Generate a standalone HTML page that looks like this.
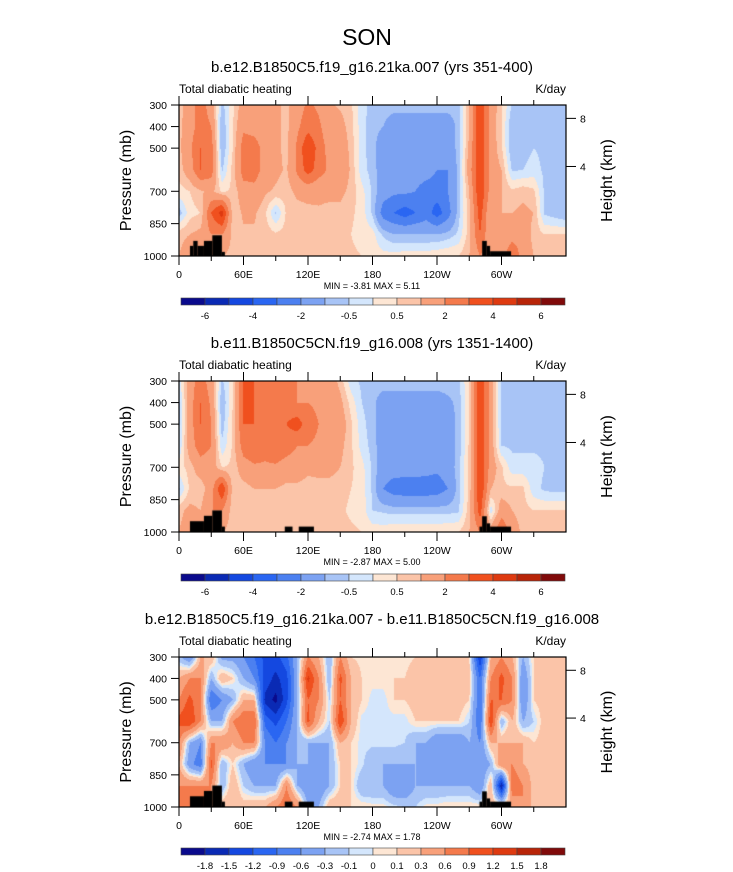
<!DOCTYPE html>
<html><head><meta charset="utf-8">
<style>
html,body{margin:0;padding:0;background:#fff;}
#wrap{position:relative;width:733px;height:872px;overflow:hidden;background:#fff;font-family:"Liberation Sans",Arial,sans-serif;}
canvas{position:absolute;}
svg{position:absolute;left:0;top:0;}
</style></head>
<body>
<div id="wrap">
<canvas id="c1" width="387" height="151" style="left:179px;top:105px"></canvas>
<canvas id="c2" width="387" height="151" style="left:179px;top:381px"></canvas>
<canvas id="c3" width="387" height="150" style="left:179px;top:657px"></canvas>
<svg id="ov" width="733" height="872" xmlns="http://www.w3.org/2000/svg">
<text x="367" y="45" font-size="23" text-anchor="middle">SON</text>
</svg>
</div>
<script>
// ---- data ----
const lons = [0,10,20,30,40,50,60,70,80,90,100,110,120,130,140,150,160,170,180,190,200,210,220,230,240,250,260,270,280,290,300,310,320,330,340,350,360];
const pres = [300,400,500,600,700,800,900,1000];
const field1 = [
[0.7,0.8,0.8,0.7,0.3,-0.8,0.8,1],
[1.5,1.5,1.8,1.5,0.5,0.3,1,1.5],
[2.5,2.5,3,3,0.9,0.5,1.2,1.5],
[1.5,2,2.5,2.5,1.2,3,2,1.5],
[-0.7,-1,-1,-0.6,0.4,4.5,2,1],
[0.3,0.5,0.5,0.7,0.6,0.6,0.8,0.8],
[1.5,1.8,2.5,2.5,1.5,1.1,0.9,0.8],
[1.4,1.5,2.6,2.6,1.6,1.1,0.9,0.8],
[1.2,1.2,1.5,1.5,1.1,0.6,0.8,0.8],
[1.2,1.2,1.2,1.2,0.9,-0.6,0.6,0.8],
[0.8,0.8,0.8,0.9,0.7,0.6,0.7,0.7],
[1.5,1.8,2.2,2.2,1.2,0.7,0.6,0.7],
[2.2,2.6,4,3.5,1.3,0.8,0.6,0.7],
[1.8,2.2,2.6,2.5,1.2,0.9,0.5,0.7],
[1.1,1.3,1.6,1.8,1.2,0.8,0.6,0.7],
[0.9,1.3,1.6,1.7,1.2,0.8,0.6,0.7],
[0.6,0.7,0.8,0.9,0.8,0.6,0.5,0.6],
[-0.3,-0.3,-0.3,-0.3,0.2,0.3,0.3,0.5],
[-0.7,-0.8,-0.8,-0.7,-0.6,-0.6,0.2,0.3],
[-0.7,-1,-1.5,-1.5,-1.5,-2.5,-0.6,0.2],
[-0.7,-1.5,-1.5,-1.5,-1.8,-3,-1,0.2],
[-0.7,-1.5,-1.5,-1.5,-1.8,-3.5,-1,0.3],
[-0.7,-1.5,-1.5,-1.5,-2,-3,-1,0.3],
[-0.7,-1.5,-1.5,-1.5,-2.5,-2.5,-1,0.3],
[-0.7,-1.5,-1.5,-2,-2.5,-3.5,-1,0.4],
[-0.7,-1.5,-1.5,-2,-2,-2.5,-0.8,0.5],
[-0.7,-0.8,-0.8,-0.8,-0.8,-0.7,-0.4,0.5],
[1,1,1.2,1.5,1,0.8,0.8,1],
[4,4,4,4,4,3.5,3,2],
[1.5,1.5,1.5,1.5,1.5,1,1,1],
[0.6,0.5,0.6,1,1,1,1,1.5],
[-0.6,-1,-1,-0.6,0.6,1,1.5,3],
[-0.6,-0.6,-0.7,-0.5,0.8,1.2,1.5,1.5],
[-0.6,-0.6,-0.5,-0.3,0.6,1,0.8,1],
[-0.6,-0.6,-0.6,-0.6,-0.6,-0.6,0.5,0.8],
[-0.6,-0.6,-0.6,-0.6,-0.6,-0.8,0.5,0.8],
[-0.6,-0.6,-0.6,-0.6,-0.6,-1,0.5,0.8]];
const field2 = [
[-0.3,-0.6,-0.6,-0.5,0.3,-0.6,0.8,1],
[1.5,1.5,1.5,1.5,0.7,0.6,1.2,1.5],
[2.5,3,3,2.5,1.5,0.6,1,1.5],
[1.5,1.8,2,2,1.5,1.5,2,1.5],
[-0.6,-1,-0.8,-0.4,0.5,4,2,1],
[0.3,0.5,0.6,0.6,0.6,0.7,0.6,0.7],
[3,3,3,2.5,1.5,0.7,0.6,0.7],
[3,3,3,3,1.8,1,0.7,0.7],
[2.5,2.5,2.5,2.5,1.8,1,0.6,0.7],
[2.5,2.5,3,3,1.8,1,0.7,0.7],
[2,2.5,3,2.5,1.5,0.8,0.6,0.6],
[2,2,3.5,2,1.5,0.8,0.6,0.7],
[1.5,2,2.5,2,1.2,0.7,0.5,0.7],
[1.5,1.8,2,1.8,1.2,0.8,0.6,0.8],
[1.5,1.5,2,1.8,1.2,0.8,0.6,0.8],
[0.8,1.2,1.5,1.2,1,0.7,0.6,0.7],
[-0.3,0.3,0.6,0.6,0.6,0.5,0.4,0.6],
[-0.6,-0.5,-0.3,-0.2,0.2,0.3,0.3,0.5],
[-0.6,-0.8,-0.8,-0.7,-0.6,-0.6,-0.5,0.3],
[-0.6,-1.5,-1.5,-1.5,-1.5,-2,-0.6,0.3],
[-0.6,-1.5,-1.5,-1.5,-1.5,-2.5,-0.7,0.4],
[-0.6,-1.5,-1.5,-1.5,-1.5,-2.6,-0.7,0.4],
[-0.6,-1.5,-1.5,-1.5,-1.5,-2.6,-0.7,0.4],
[-0.6,-1.5,-1.5,-1.5,-1.6,-2.6,-0.7,0.4],
[-0.6,-1.5,-1.5,-1.5,-1.8,-2.5,-0.7,0.4],
[-0.6,-1.2,-1.5,-1.5,-1.5,-2,-0.7,0.5],
[-0.6,-0.8,-0.8,-0.8,-0.7,-0.7,-0.6,0.5],
[0.5,0.5,0.5,0.6,0.6,0.6,0.8,1],
[4,4,4,4,4,4,3.5,2],
[1.5,1.5,1.5,1.5,1.5,1,-0.3,1.5],
[-0.6,-0.6,-0.6,-0.5,0.6,0.6,1.5,3],
[-0.6,-1,-1,-0.6,-0.3,0.6,1,1.5],
[-0.6,-0.7,-0.7,-0.6,-0.3,0.6,0.7,0.8],
[-0.6,-0.6,-0.6,-0.6,-0.3,-0.3,0.5,0.7],
[-0.8,-0.8,-0.6,-0.6,-0.5,-0.6,0.5,0.7],
[-1,-0.8,-0.6,-0.6,-0.6,-0.7,0.5,0.7],
[-1,-0.8,-0.6,-0.6,-0.6,-0.7,0.5,0.7]];
const field3 = [
[-0.2,0.3,0.6,1,0.6,0.3,0.6,0.6],
[-0.6,0.6,1,1.2,-0.3,-0.5,0.6,0.6],
[0.3,0.6,0.6,0.6,-0.6,-0.8,0.6,0.6],
[0.3,-0.3,-0.9,-0.3,0.6,1,0.6,0.6],
[-0.4,0.3,-0.6,-0.3,0.6,-0.3,-0.3,0.3],
[-0.4,0.1,-0.3,0.6,0.3,0.1,0.3,0.3],
[-0.6,-0.3,0.3,0.9,0.6,-0.3,-0.1,0.2],
[-0.9,-0.6,0.3,0.9,0.6,-0.6,-0.3,0.3],
[-1.3,-1.3,-1.6,-1,-0.6,-0.6,-0.3,0.3],
[-1.3,-1.6,-1.9,-1.3,-0.9,-0.6,-0.3,0.6],
[-1,-1.3,-1.3,-0.9,-0.6,-0.6,0.6,0.9],
[-0.3,-0.3,-0.3,-0.3,-0.3,-0.3,-0.3,0.6],
[0.6,1.3,0.9,1,-0.3,-0.3,-0.6,-0.3],
[0.3,0.6,0.6,0.3,-0.3,-0.6,-0.6,-0.3],
[-0.3,-0.3,-0.1,-0.1,-0.3,-0.3,-0.3,0.3],
[0.6,1,0.9,1.2,0.3,0.1,0.1,0.3],
[0.1,0.3,0.3,0.3,0.1,0.1,0.1,0.1],
[0.05,0.1,0.1,-0.05,-0.05,-0.05,-0.3,0.1],
[0.05,0.05,-0.05,-0.05,-0.05,-0.3,-0.3,0.05],
[0.05,0.05,-0.05,-0.05,-0.05,-0.3,-0.3,0.05],
[0.05,0.1,0.1,-0.05,-0.05,-0.3,-0.6,-0.05],
[0.05,0.1,0.1,-0.05,-0.1,-0.3,-0.6,-0.1],
[0.1,0.2,0.2,0.1,-0.3,-0.3,-0.3,-0.1],
[0.1,0.2,0.2,0.1,-0.3,-0.5,-0.3,0.05],
[0.1,0.2,0.2,0.1,-0.6,-0.5,-0.3,0.05],
[0.1,0.2,0.2,0.1,-0.6,-0.6,-0.3,0.1],
[0.1,0.2,0.2,0.1,-0.6,-0.6,-0.3,0.1],
[0.1,0.2,0.1,-0.1,-0.3,-0.6,-0.3,0.1],
[-1.5,-0.9,-0.9,-0.9,-0.6,-0.6,-0.6,0.1],
[0.3,0.6,0.9,1.2,0.3,-0.3,0.3,0.3],
[0.6,1,0.9,-0.3,0.3,0.6,-1.8,0.3],
[0.3,0.6,0.6,0.3,0.3,0.6,0.9,0.3],
[-0.3,-0.6,-0.6,-0.3,0.3,0.3,0.6,0.6],
[0.1,0.1,0.1,-0.1,0.1,0.2,0.2,0.2],
[0.2,0.2,0.2,0.2,0.2,0.2,0.2,0.2],
[0.2,0.2,0.2,0.2,0.2,0.2,0.2,0.2],
[0.2,0.2,0.2,0.2,0.2,0.2,0.2,0.2]];
const levelsAbs = [-6,-5,-4,-3,-2,-1,-0.5,0,0.5,1,2,3,4,5,6];
const labelsAbs = ["-6","","-4","","-2","","-0.5","","0.5","","2","","4","","6"];
const levelsDiff = [-1.8,-1.5,-1.2,-0.9,-0.6,-0.3,-0.1,0,0.1,0.3,0.6,0.9,1.2,1.5,1.8];
const labelsDiff = ["-1.8","-1.5","-1.2","-0.9","-0.6","-0.3","-0.1","0","0.1","0.3","0.6","0.9","1.2","1.5","1.8"];
const colors = ["#0a0a8c","#0a2ab4","#1448e0","#2a66f2","#4c80f0","#7ca2f2","#a8c4f6","#d4e6fc","#fde6d4","#fbc4a8","#f8a07a","#f47a4c","#f0501e","#de3a10","#b82408","#800a0a"];
// topography: [lonStart, lonEnd, pTop]
const topoA = [[10.2,13.3,953],[13.3,17.3,930],[17.3,23.2,953],[23.2,31,930],[31,39.9,904],[39.9,42.7,981],[282,286.3,930],[286.3,289.4,953],[289.4,308.9,978]];
const topoB = [[10.2,23.2,950],[23.2,31,925],[31,39.9,900],[39.9,42.7,975],[98.4,105.6,975],[111.4,125.5,975],[279.5,282,975],[282,286.3,927],[286.3,289.4,960],[289.4,308.9,975]];
const xTickVals = [0,60,120,180,240,300];
const xTickLabels = ["0","60E","120E","180","120W","60W"];
const yTickVals = [300,400,500,700,850,1000];
const hTickVals = [8,4];
const hTickP = [362,585];
const panelTitles = ["b.e12.B1850C5.f19_g16.21ka.007 (yrs 351-400)","b.e11.B1850C5CN.f19_g16.008 (yrs 1351-1400)","b.e12.B1850C5.f19_g16.21ka.007 - b.e11.B1850C5CN.f19_g16.008"];
const minmax = ["MIN =  -3.81  MAX =   5.11","MIN =  -2.87  MAX =   5.00","MIN =  -2.74  MAX =   1.78"];

// ---- rendering ----
const NS="http://www.w3.org/2000/svg";
const ov=document.getElementById('ov');
function mk(tag,attrs,parent){const e=document.createElementNS(NS,tag);for(const k in attrs)e.setAttribute(k,attrs[k]);(parent||ov).appendChild(e);return e;}
const PL=179, PW=387;
const panels=[
 {cid:'c1',top:105,h:151,field:field1,levels:levelsAbs,labels:labelsAbs,topo:topoA,cbY:298},
 {cid:'c2',top:381,h:151,field:field2,levels:levelsAbs,labels:labelsAbs,topo:topoB,cbY:574},
 {cid:'c3',top:657,h:150,field:field3,levels:levelsDiff,labels:labelsDiff,topo:topoB,cbY:848}];
function colorIdx(v,lv){let i=0;while(i<lv.length&&v+1e-6>=lv[i])i++;return i;}
function sample(field,lon,p){
  let fi=lon/10; let i0=Math.min(Math.floor(fi),lons.length-2); let tx=fi-i0;
  let j0=0; while(j0<pres.length-2&&p>pres[j0+1])j0++;
  let ty=(p-pres[j0])/(pres[j0+1]-pres[j0]); ty=Math.max(0,Math.min(1,ty));
  const a=field[i0][j0],b=field[i0+1][j0],c=field[i0][j0+1],d=field[i0+1][j0+1];
  return (a*(1-tx)+b*tx)*(1-ty)+(c*(1-tx)+d*tx)*ty;
}
panels.forEach((P,k)=>{
  const cv=document.getElementById(P.cid),ctx=cv.getContext('2d');
  const xs=lon=>lon/360*PW, ys=p=>(p-300)/700*P.h;
  const img=ctx.createImageData(PW,P.h);
  const rgb=colors.map(c=>[parseInt(c.substr(1,2),16),parseInt(c.substr(3,2),16),parseInt(c.substr(5,2),16)]);
  for(let y=0;y<P.h;y++){const p=300+(y+0.5)/P.h*700;
    for(let x=0;x<PW;x++){const lon=(x+0.5)/PW*360;
      const c=rgb[colorIdx(sample(P.field,lon,p),P.levels)];const o=(y*PW+x)*4;
      img.data[o]=c[0];img.data[o+1]=c[1];img.data[o+2]=c[2];img.data[o+3]=255;}}
  ctx.putImageData(img,0,0);
  ctx.fillStyle='#000';
  P.topo.forEach(t=>{ctx.fillRect(xs(t[0]),ys(t[2]),xs(t[1])-xs(t[0]),P.h-ys(t[2]));});
  const g=mk('g',{});
  
  
  const T=P.top,B=P.top+P.h,R=PL+PW;
  const t1=mk('text',{x:372,y:T-33,'font-size':15,'text-anchor':'middle'},g);t1.textContent=panelTitles[k];
  
  const t2=mk('text',{x:PL,y:T-12,'font-size':12},g);t2.textContent='Total diabatic heating';
  
  const t3=mk('text',{x:R,y:T-12,'font-size':12,'text-anchor':'end'},g);t3.textContent='K/day';
  
  mk('rect',{x:PL,y:T,width:PW,height:P.h,fill:'none',stroke:'#000','stroke-width':1.2},g);
  for(let lon=0;lon<=330;lon+=30){const x=PL+lon/360*PW,len=lon%60==0?9:5;
    mk('line',{x1:x,x2:x,y1:T,y2:T-len,stroke:'#000'},g);mk('line',{x1:x,x2:x,y1:B,y2:B+len,stroke:'#000'},g);}
  xTickVals.forEach((v,i)=>{const tx=mk('text',{x:PL+v/360*PW,y:B+22,'font-size':10.5,'text-anchor':'middle'},g);tx.textContent=xTickLabels[i];
    });
  yTickVals.forEach(v=>{const y=T+(v-300)/700*P.h;mk('line',{x1:PL,x2:PL-8,y1:y,y2:y,stroke:'#000'},g);
    const tx=mk('text',{x:PL-12,y:y+4,'font-size':10.5,'text-anchor':'end'},g);tx.textContent=String(v);
    });
  hTickVals.forEach((v,i)=>{const y=T+(hTickP[i]-300)/700*P.h;mk('line',{x1:R,x2:R+10,y1:y,y2:y,stroke:'#000'},g);
    const tx=mk('text',{x:R+14,y:y+4,'font-size':10.5},g);tx.textContent=String(v);
    });
  const yl=mk('text',{x:0,y:0,'font-size':16,'text-anchor':'middle',transform:`translate(131,${T+P.h/2}) rotate(-90)`},g);yl.textContent='Pressure (mb)';
  
  const hl=mk('text',{x:0,y:0,'font-size':16,'text-anchor':'middle',transform:`translate(612,${T+P.h/2}) rotate(-90)`},g);hl.textContent='Height (km)';
  
  const mm=mk('text',{x:372,y:B+33,'font-size':9,'text-anchor':'middle'},g);mm.textContent=minmax[k];
  
  const cb=mk('g',{},g);
  
  const cx0=181,cw=384/16;
  colors.forEach((c,i)=>{const r=mk('rect',{x:cx0+i*cw,y:P.cbY,width:cw,height:7,fill:c,stroke:'#444','stroke-width':0.6},cb);
    });
  P.labels.forEach((l,i)=>{if(!l)return;const tx=mk('text',{x:cx0+(i+1)*cw,y:P.cbY+21,'font-size':9.5,'text-anchor':'middle'},cb);tx.textContent=l;
    });
});
</script>
</body></html>
